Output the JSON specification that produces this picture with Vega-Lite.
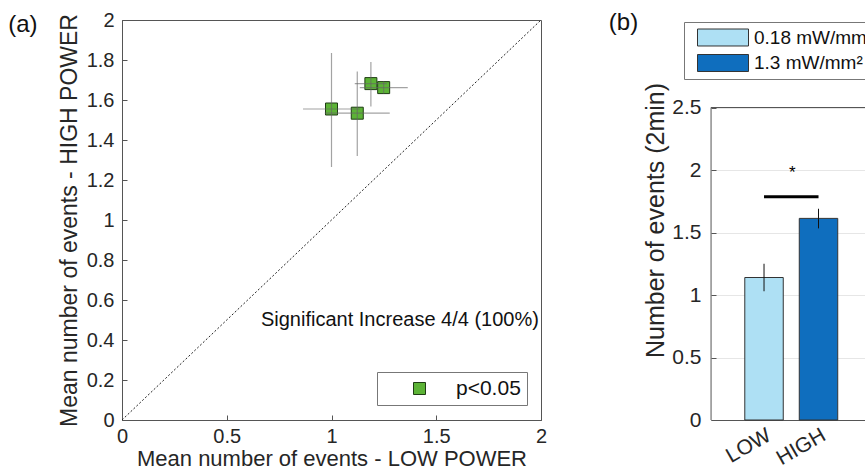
{
  "$schema": "https://vega.github.io/schema/vega-lite/v6.json",
  "padding": {"left": 7, "top": 9, "right": 0, "bottom": 0},
  "background": "white",
  "spacing": 60,
  "resolve": {
    "scale": {"color": "independent", "fill": "independent"},
    "legend": {"color": "independent", "fill": "independent"}
  },
  "config": {
    "font": "Liberation Sans",
    "view": {"stroke": "#555", "strokeWidth": 1},
    "axis": {
      "labelFont": "Liberation Sans", "titleFont": "Liberation Sans",
      "labelColor": "#262626", "titleColor": "#262626",
      "domainColor": "#555", "tickColor": "#555",
      "titleFontWeight": "normal", "grid": false, "labelOverlap": false, "labelFlush": false
    },
    "title": {"font": "Liberation Sans", "fontWeight": "normal", "fontSize": 24, "anchor": "start", "color": "#111"},
    "legend": {"labelFont": "Liberation Sans", "labelColor": "#111"}
  },
  "hconcat": [
    {
      "width": 419,
      "height": 400,
      "title": {"text": "(a)", "offset": -27, "dx": -50},
      "layer": [
        {
          "data": {"values": [{"x0": 0, "y0": 0, "x1": 2, "y1": 2}]},
          "mark": {"type": "rule", "strokeDash": [2, 2], "color": "#222", "strokeWidth": 1},
          "encoding": {
            "x": {"field": "x0", "type": "quantitative", "scale": {"domain": [0, 2]},
              "axis": {"title": "Mean number of events - LOW POWER", "values": [0, 0.5, 1, 1.5, 2], "tickCount": 20, "format": "~g",
                "labelOverlap": false, "labelFlush": false, "labelFontSize": 20, "titleFontSize": 22, "tickSize": -5, "labelPadding": 11, "titlePadding": 2}},
            "y": {"field": "y0", "type": "quantitative", "scale": {"domain": [0, 2]},
              "axis": {"title": "Mean number of events - HIGH POWER", "values": [0, 0.2, 0.4, 0.6, 0.8, 1, 1.2, 1.4, 1.6, 1.8, 2], "tickCount": 20, "format": "~g",
                "labelOverlap": false, "labelFlush": false, "labelFontSize": 20, "titleFontSize": 23, "tickSize": -5, "labelPadding": 13, "titlePadding": 5}},
            "x2": {"field": "x1"},
            "y2": {"field": "y1"}
          }
        },
        {
          "data": {"values": [
            {"x": 1.0, "y": 1.555, "xlo": 0.864, "xhi": 1.136, "ylo": 1.265, "yhi": 1.835, "sig": "p<0.05"},
            {"x": 1.123, "y": 1.534, "xlo": 0.968, "xhi": 1.278, "ylo": 1.32, "yhi": 1.742, "sig": "p<0.05"},
            {"x": 1.188, "y": 1.682, "xlo": 1.111, "xhi": 1.265, "ylo": 1.567, "yhi": 1.79, "sig": "p<0.05"},
            {"x": 1.249, "y": 1.662, "xlo": 1.135, "xhi": 1.364, "ylo": 1.632, "yhi": 1.692, "sig": "p<0.05"}
          ]},
          "layer": [
            {
              "mark": {"type": "point", "shape": "square", "filled": true, "size": 144, "stroke": "#1f3d14", "strokeWidth": 1, "opacity": 1},
              "encoding": {
                "x": {"field": "x", "type": "quantitative"},
                "y": {"field": "y", "type": "quantitative"},
                "color": {"field": "sig", "type": "nominal", "scale": {"range": ["#5cb336"]},
                  "legend": {"orient": "none", "legendX": 255, "legendY": 352, "title": null,
                    "symbolType": "square", "symbolSize": 144, "symbolStrokeColor": "#1f3d14", "symbolStrokeWidth": 1,
                    "labelFontSize": 21, "labelOffset": 26, "symbolOffset": 26, "padding": 6,
                    "strokeColor": "#777", "fillColor": "white"}}
              }
            },
            {
              "mark": {"type": "rule", "color": "#666", "opacity": 0.6, "strokeWidth": 1.2},
              "encoding": {
                "x": {"field": "xlo", "type": "quantitative"},
                "x2": {"field": "xhi"},
                "y": {"field": "y", "type": "quantitative"}
              }
            },
            {
              "mark": {"type": "rule", "color": "#666", "opacity": 0.6, "strokeWidth": 1.2},
              "encoding": {
                "x": {"field": "x", "type": "quantitative"},
                "y": {"field": "ylo", "type": "quantitative"},
                "y2": {"field": "yhi"}
              }
            }
          ]
        },
        {
          "data": {"values": [{"tx": 1.99, "ty": 0.5, "label": "Significant Increase 4/4 (100%)"}]},
          "mark": {"type": "text", "align": "right", "baseline": "middle", "fontSize": 20, "color": "#111"},
          "encoding": {
            "x": {"field": "tx", "type": "quantitative"},
            "y": {"field": "ty", "type": "quantitative"},
            "text": {"field": "label"}
          }
        }
      ]
    },
    {
      "width": 165,
      "height": 400,
      "view": {"stroke": null},
      "title": {"text": "(b)", "offset": -15, "dx": -35},
      "layer": [
        {
          "data": {"values": [
            {"cond": "LOW", "power": "0.18 mW/mm²", "mean": 1.14, "lo": 1.03, "hi": 1.25},
            {"cond": "HIGH", "power": "1.3 mW/mm²", "mean": 1.613, "lo": 1.533, "hi": 1.69}
          ]},
          "layer": [
            {
              "mark": {"type": "bar", "stroke": "#333", "strokeWidth": 1},
              "encoding": {
                "x": {"field": "cond", "type": "nominal",
                  "scale": {"domain": ["LOW", "HIGH"], "paddingInner": 0.294, "paddingOuter": 0.661, "align": 0.469},
                  "axis": {"title": null, "labelAngle": -30, "labelAlign": "right", "labelBaseline": "top",
                    "labelFontSize": 21, "labelPadding": 9, "tickSize": -5}},
                "y": {"field": "mean", "type": "quantitative", "scale": {"domain": [0, 3.2], "nice": false},
                  "axis": {"title": "Number of events (2min)", "values": [0, 0.5, 1, 1.5, 2, 2.5], "tickCount": 20, "format": "~g",
                    "domain": false, "grid": true, "gridColor": "#e6e6e6", "labelFontSize": 21, "titleFontSize": 25,
                    "tickSize": -5, "labelPadding": 15, "titlePadding": 3}},
                "fill": {"field": "power", "type": "nominal",
                  "scale": {"domain": ["0.18 mW/mm²", "1.3 mW/mm²"], "range": ["#aee0f4", "#0f6ebe"]},
                  "legend": {"orient": "none", "legendX": -27, "legendY": 2, "title": null,
                    "symbolType": "M-1,-0.333H1V0.333H-1Z", "symbolSize": 2601,
                    "symbolStrokeColor": "#333", "symbolStrokeWidth": 1, "clipHeight": 19, "rowPadding": 5.5,
                    "labelFontSize": 19, "labelOffset": 5, "padding": 6, "symbolOffset": 7,
                    "strokeColor": "#777", "fillColor": "white"}}
              }
            },
            {
              "mark": {"type": "rule", "color": "#111", "strokeWidth": 1},
              "encoding": {
                "x": {"field": "cond", "type": "nominal", "bandPosition": 0.5},
                "y": {"field": "lo", "type": "quantitative"},
                "y2": {"field": "hi"}
              }
            }
          ]
        },
        {
          "data": {"values": [{"from": "LOW", "to": "HIGH", "line": 1.787, "star": 1.98, "label": "*"}]},
          "layer": [
            {
              "mark": {"type": "rule", "color": "#000", "strokeWidth": 3},
              "encoding": {
                "x": {"field": "from", "type": "nominal", "bandPosition": 0.5},
                "x2": {"field": "to", "bandPosition": 0.5},
                "y": {"field": "line", "type": "quantitative"}
              }
            },
            {
              "mark": {"type": "text", "fontSize": 17, "dx": 9, "baseline": "middle", "align": "center", "color": "#000"},
              "encoding": {
                "x": {"field": "from", "type": "nominal", "bandPosition": 1},
                "y": {"field": "star", "type": "quantitative"},
                "text": {"field": "label"}
              }
            }
          ]
        },
        {
          "data": {"values": [{"edge": "LOW", "bottom": 0, "top": 2.5}]},
          "layer": [
            {
              "mark": {"type": "rule", "color": "#555", "strokeWidth": 1},
              "encoding": {
                "y": {"field": "top", "type": "quantitative"}
              }
            },
            {
              "mark": {"type": "rule", "color": "#555", "strokeWidth": 1},
              "encoding": {
                "x": {"field": "edge", "type": "nominal", "bandPosition": -0.8766},
                "y": {"field": "bottom", "type": "quantitative"},
                "y2": {"field": "top"}
              }
            }
          ]
        }
      ]
    }
  ]
}
